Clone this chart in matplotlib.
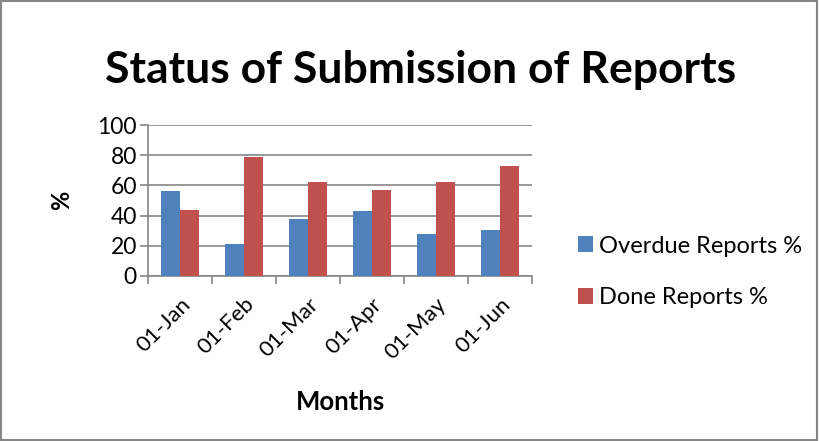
import matplotlib
matplotlib.use("Agg")
import matplotlib.pyplot as plt
import numpy as np
from matplotlib.patches import Rectangle

months = ["01-Jan", "01-Feb", "01-Mar", "01-Apr", "01-May", "01-Jun"]
overdue = [56, 21, 38, 43, 27.5, 30.5]
done = [44, 79, 62, 57, 62.5, 73]
yticks = [0, 20, 40, 60, 80, 100]

plt.rcParams['font.family'] = ['Lato', 'DejaVu Sans']

fig = plt.figure(figsize=(8.19, 4.41), dpi=100)
ax = fig.add_axes([148/819, 1-276/441, 384/819, 151/441])

x = np.arange(len(months))
w = 0.29
blue = "#4F81BD"
red = "#C0504D"
ax.bar(x - w/2, overdue, w, color=blue, label="Overdue Reports %", zorder=3)
ax.bar(x + w/2, done, w, color=red, label="Done Reports %", zorder=3)

ax.set_xlim(-0.5, len(months) - 0.5)
ax.set_ylim(0, 100)
ax.set_yticks(yticks)
ax.set_yticklabels([str(v) for v in yticks], fontsize=16.5)
ax.yaxis.grid(True, color="#868686", linewidth=1.2, zorder=0)
ax.set_xticks(x)
ax.set_xticklabels(months, rotation=45, ha="right", rotation_mode="anchor", fontsize=16)
ax.set_xticks(np.arange(-0.5, len(months)), minor=True)
ax.tick_params(axis="x", which="major", length=0, pad=13)
ax.tick_params(axis="x", which="minor", length=6, color="#868686", width=1.2, direction="out")
ax.tick_params(axis="y", length=6, color="#868686", width=1.2, direction="out", pad=2)
for s in ["top", "right"]:
    ax.spines[s].set_visible(False)
for s in ["left", "bottom"]:
    ax.spines[s].set_color("#868686")
    ax.spines[s].set_linewidth(1.2)

ax.set_ylabel("%", fontsize=17, fontweight="bold", va="center")
ax.yaxis.set_label_coords(-0.224, 0.503)
ax.set_xlabel("Months", fontsize=18.5, fontweight="bold", va="center")
ax.xaxis.set_label_coords(0.5, -0.834)

fig.text(421/819, 1-70/441, "Status of Submission of Reports", fontsize=32,
         fontweight="bold", ha="center", va="center")

leg = ax.legend(loc="center left", bbox_to_anchor=(566/819, 1-272/441),
                bbox_transform=fig.transFigure, frameon=False, fontsize=17,
                handlelength=0.65, handleheight=0.65, handletextpad=0.25,
                labelspacing=1.3, borderpad=0)

fig.patches.append(Rectangle((0.001, 0.002), 0.997, 0.995, transform=fig.transFigure,
                             fill=False, edgecolor="#868686", linewidth=1.5))

fig.savefig("out.png", dpi=100)
